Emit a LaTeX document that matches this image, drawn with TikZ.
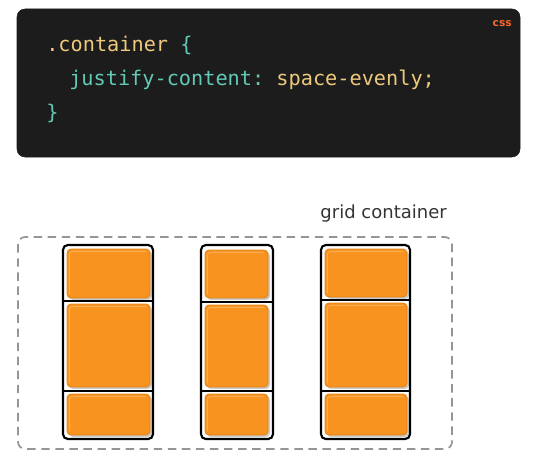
\documentclass[tikz,border=0pt]{standalone}
\usepackage{fontspec}
\usepackage{tikz}
\usepackage{xcolor}
\setmainfont{DejaVu Sans}
\setmonofont{DejaVu Sans Mono}
\definecolor{codebg}{HTML}{1C1C1C}
\definecolor{codeyellow}{HTML}{EDC97C}
\definecolor{codeteal}{HTML}{62C9B7}
\definecolor{csstag}{HTML}{F26A2B}
\definecolor{itemfill}{HTML}{F7931E}
\definecolor{itemedge}{HTML}{E2841A}
\definecolor{itemlight}{HTML}{FBAE55}
\definecolor{dashgray}{HTML}{959595}
\usetikzlibrary{positioning}
\tikzset{
	codeline/.style={anchor=base west, inner sep=0pt, font=\ttfamily\fontsize{14.4}{16}\selectfont},
	gridcol/.style={draw=black, line width=1.5pt, rounded corners=0.12cm},
	itemshadow/.style={fill=black!20, draw=none, rounded corners=0.1cm},
	itembox/.style={fill=itemfill, draw=itemedge, line width=0.6pt, rounded corners=0.1cm},
	itemshine/.style={draw=itemlight, line width=0.7pt, rounded corners=0.08cm}
}
\newcommand{\griditem}[4]{
	\path[itemshadow] (#1+0.05,#2-0.05) rectangle (#3+0.05,#4-0.05);
	\filldraw[itembox] (#1,#2) rectangle (#3,#4);
	\draw[itemshine] (#1+0.06,#4+0.1) -- (#1+0.06,#2-0.06) -- (#3-0.1,#2-0.06);
}

\begin{document}
\begin{tikzpicture}
	\useasboundingbox (0,0) rectangle (13.4,-11.55);

	% code panel
	\filldraw[color=codebg, rounded corners=0.2cm] (0.425,-0.225) rectangle (13.0,-3.925);
	\node[anchor=base east, inner sep=0pt, text=csstag, font=\bfseries\fontsize{7.6}{9}\selectfont] (lang) at (12.8,-0.675) {css};
	\node[codeline] (sel) at (1.15,-1.3) {\textcolor{codeyellow}{.container} \textcolor{codeteal}{\{}};
	\node[codeline] (decl) at (1.725,-2.15) {\textcolor{codeteal}{justify-content:} \textcolor{codeyellow}{space-evenly;}};
	\node[codeline] (close) at (1.15,-3.0) {\textcolor{codeteal}{\}}};

	% grid container
	\draw[color=dashgray, line width=1.2pt, dash pattern=on 6pt off 4pt, rounded corners=0.18cm] (0.45,-5.925) rectangle (11.3,-11.225);
	\node[anchor=base east, inner sep=0pt, text=black!80, font=\fontsize{12.8}{15}\selectfont] (label) at (11.175,-5.45) {grid container};

	% left column
	\griditem{1.675}{-6.225}{3.75}{-7.45}
	\griditem{1.675}{-7.6}{3.75}{-9.675}
	\griditem{1.675}{-9.85}{3.75}{-10.875}
	\draw[gridcol] (1.575,-6.125) rectangle (3.825,-10.975);
	\draw[line width=1pt] (1.575,-7.525) -- (3.825,-7.525);
	\draw[line width=1pt] (1.575,-9.775) -- (3.825,-9.775);

	% middle column
	\griditem{5.125}{-6.25}{6.7}{-7.45}
	\griditem{5.125}{-7.625}{6.7}{-9.675}
	\griditem{5.125}{-9.85}{6.7}{-10.875}
	\draw[gridcol] (5.025,-6.125) rectangle (6.825,-10.975);
	\draw[line width=1pt] (5.025,-7.55) -- (6.825,-7.55);
	\draw[line width=1pt] (5.025,-9.775) -- (6.825,-9.775);

	% right column
	\griditem{8.125}{-6.225}{10.175}{-7.425}
	\griditem{8.125}{-7.575}{10.175}{-9.675}
	\griditem{8.125}{-9.85}{10.175}{-10.875}
	\draw[gridcol] (8.025,-6.125) rectangle (10.25,-10.975);
	\draw[line width=1pt] (8.025,-7.5) -- (10.25,-7.5);
	\draw[line width=1pt] (8.025,-9.775) -- (10.25,-9.775);
\end{tikzpicture}
\end{document}
